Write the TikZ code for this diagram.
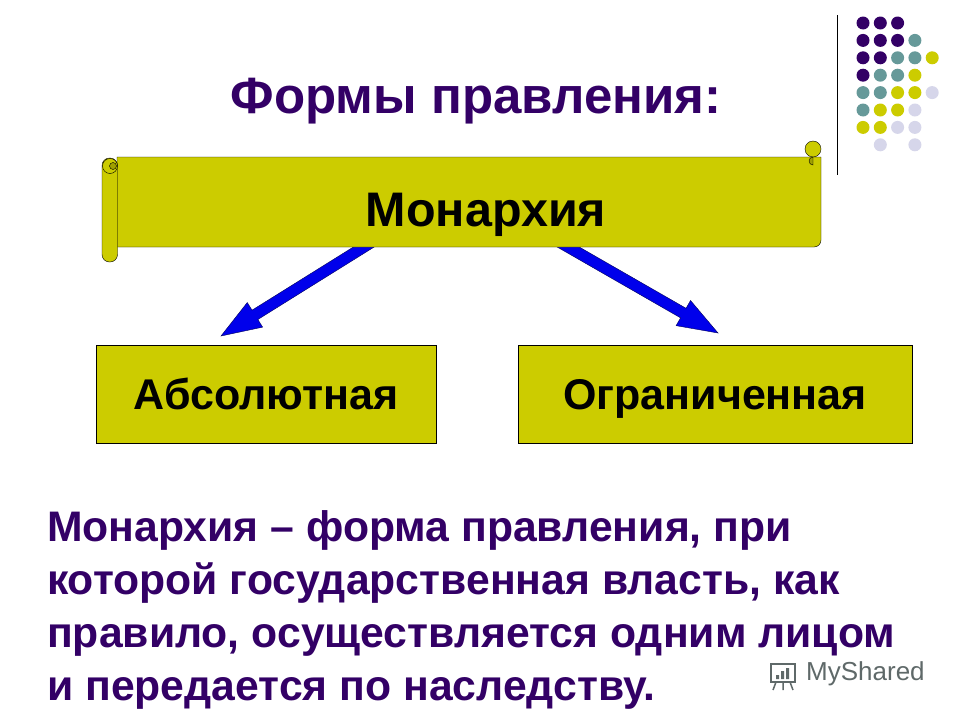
\documentclass[tikz,border=0pt]{standalone}
\usepackage{fontspec}
\setmainfont{Liberation Sans}
\usetikzlibrary{calc}

\definecolor{deeppurple}{RGB}{51,0,102}
\definecolor{slatebluegrey}{RGB}{102,153,153}
\definecolor{mustard}{RGB}{204,204,0}
\definecolor{darkmustard}{RGB}{160,160,0}
\definecolor{lavendergrey}{RGB}{214,214,234}
\definecolor{arrowblue}{RGB}{0,0,235}
\definecolor{arrowedge}{RGB}{0,0,90}
\definecolor{markgrey}{RGB}{95,105,105}

\tikzset{
	formbox/.style={draw=black, fill=mustard, minimum width=340pt, minimum height=98pt, inner sep=0pt, text height=30pt, text depth=0pt, font=\fontsize{43}{48}\selectfont\bfseries},
	blockarrow/.style={draw=arrowedge, fill=arrowblue, line join=miter, thin},
	scrollpart/.style={draw=black, fill=mustard, thin},
}

% block arrow from #1 to #2
\newcommand{\blockarrow}[2]{%
	\coordinate (h) at ($(#2)!40pt!(#1)$);
	\draw[blockarrow] ($(#1)!5.5pt!90:(#2)$) -- ($(h)!5.5pt!-90:(#1)$) -- ($(h)!14.5pt!-90:(#1)$) -- (#2)
		-- ($(h)!14.5pt!90:(#1)$) -- ($(h)!5.5pt!90:(#1)$) -- ($(#1)!5.5pt!-90:(#2)$) -- cycle;}

\begin{document}
\begin{tikzpicture}[x=1pt, y=-1pt]
	\useasboundingbox[fill=white] (0,0) rectangle (960,720);

	% Decoration top right
	\draw[black, thin] (837,15) -- (837,175);
	\foreach \c/\r/\col in {0/0/deeppurple, 1/0/deeppurple, 2/0/deeppurple,
		0/1/deeppurple, 1/1/deeppurple, 2/1/deeppurple, 3/1/slatebluegrey,
		0/2/deeppurple, 1/2/deeppurple, 2/2/slatebluegrey, 3/2/slatebluegrey, 4/2/mustard,
		0/3/deeppurple, 1/3/slatebluegrey, 2/3/slatebluegrey, 3/3/mustard,
		0/4/slatebluegrey, 1/4/slatebluegrey, 2/4/mustard, 3/4/mustard, 4/4/lavendergrey,
		0/5/slatebluegrey, 1/5/mustard, 2/5/mustard, 3/5/lavendergrey,
		0/6/mustard, 1/6/mustard, 2/6/lavendergrey, 3/6/lavendergrey,
		1/7/lavendergrey, 3/7/lavendergrey}
		\fill[\col] (863+17.3*\c, 23+17.4*\r) circle (6.5);

	% Title
	\node (title) at (476,113) [anchor=base, text=deeppurple, font=\fontsize{51}{58}\selectfont\bfseries] {Формы правления:};

	% Arrows (drawn first, the scroll hides their ends)
	\coordinate (monL) at (375,240);
	\coordinate (absTip) at (221,336);
	\coordinate (monR) at (556,240);
	\coordinate (limTip) at (718,333);
	\blockarrow{monL}{absTip}
	\blockarrow{monR}{limTip}

	% Scroll
	% body
	\draw[scrollpart] (117,157) -- (821,157) -- (821,240) arc (0:90:7) -- (117,247) -- cycle;
	% right curl
	\draw[scrollpart] (813,149) circle (8);
	\draw[black, thin, fill=darkmustard] (813,157) arc (-90:-270:4) -- cycle;
	% left roll
	\draw[scrollpart, rounded corners=7.5] (102,158) rectangle (117.5,262);
	\draw[scrollpart] (110,166) circle (7.5);
	\draw[black, thin, fill=darkmustard] (113,166) circle (3.5);
	\node (monarchy) at (486,226) [anchor=base, font=\fontsize{48.5}{54}\selectfont\bfseries] {Монархия};

	% Boxes
	\node (absolute) at (266,394) [formbox] {Абсолютная};
	\node (limited) at (715,394) [formbox, minimum width=394pt] {Ограниченная};

	% Definition
	\node (definition) at (47,510) [anchor=north west, inner sep=0pt, align=left, text=deeppurple, font=\fontsize{42.7}{53}\selectfont\bfseries]
		{Монархия – форма правления, при\\которой государственная власть, как\\правило, осуществляется одним лицом\\и передается по наследству.};

	% Watermark
	\draw[markgrey, line width=1.5pt] (771,664) rectangle (795,682);
	\draw[markgrey, line width=1.5pt] (776,682) -- (773,690) (783,682) -- (783,690) (790,682) -- (793,690);
	\fill[markgrey] (776,675) rectangle (779,679) (781,671) rectangle (784,679) (786,668) rectangle (789,679);
	\node (myshared) at (806,680) [anchor=base west, inner sep=0pt, text=markgrey, font=\fontsize{26}{30}\selectfont] {MyShared};

\end{tikzpicture}
\end{document}
